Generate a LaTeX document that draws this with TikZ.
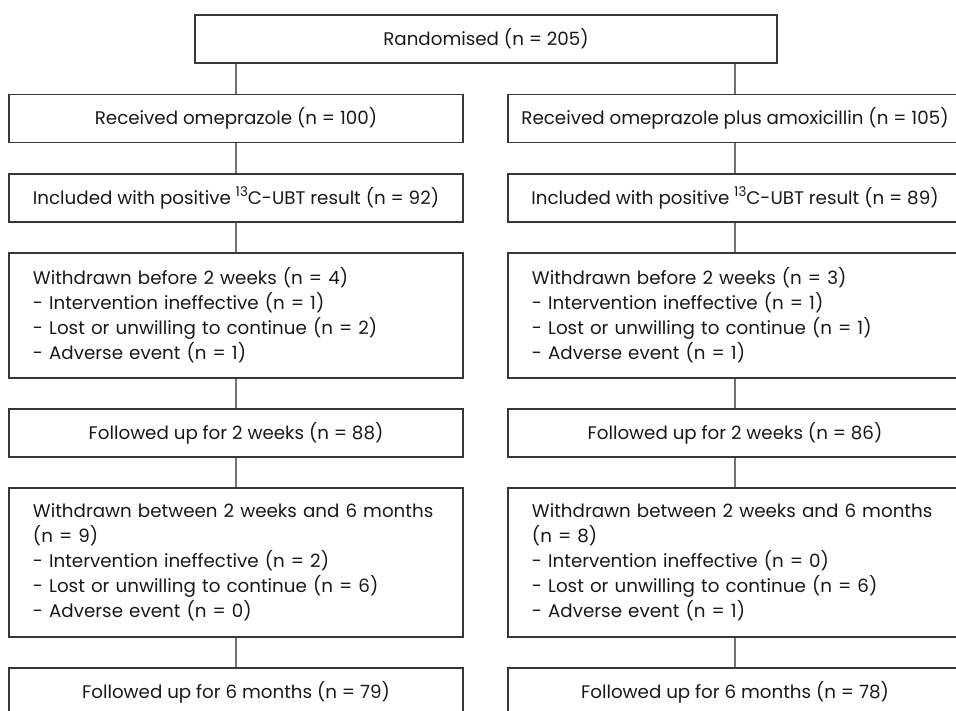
\documentclass[tikz,border=0pt]{standalone}
\usepackage{fontspec}
\setmainfont{Poppins}
\usepackage{tikz}
\usetikzlibrary{
    positioning,
    calc
}
\definecolor{BoxInk}{RGB}{55,55,55}
\definecolor{LinkGray}{RGB}{115,115,115}
\definecolor{TextInk}{RGB}{25,25,25}
\newcommand{\isotope}[1]{\raisebox{0.75ex}{\fontsize{9.5}{10}\selectfont #1}}
\tikzset{
    flowbox/.style={draw=BoxInk, line width=0.9pt, minimum width=113.5mm, minimum height=12mm,
        inner sep=0pt, font=\fontsize{13}{17.8}\selectfont, text=TextInk, align=center},
    listbox/.style={flowbox, text width=101.5mm, inner xsep=6mm, align=left},
    link/.style={draw=LinkGray, line width=0.8pt}
}
\begin{document}
\begin{tikzpicture}[x=0.25mm, y=-0.25mm]
                    \useasboundingbox (0,0) rectangle (956,711);
                    \coordinate (ColL) at (236,0);
                    \coordinate (ColR) at (735,0);
                    \node[flowbox, minimum width=145.5mm] (rand) at (486,39) {Randomised (n = 205)};
                    % left arm: omeprazole
                    \node[flowbox] (recL) at ($(ColL)+(0,118.5)$) {Received omeprazole (n = 100)};
                    \node[flowbox] (incL) at ($(ColL)+(0,198)$) {Included with positive \isotope{13}C-UBT result (n = 92)};
                    \node[listbox, minimum height=31.25mm] (wdaL) at ($(ColL)+(0,315.5)$) {Withdrawn before 2 weeks (n = 4)\\- Intervention ineffective (n = 1)\\- Lost or unwilling to continue (n = 2)\\- Adverse event (n = 1)};
                    \node[flowbox] (fuaL) at ($(ColL)+(0,433)$) {Followed up for 2 weeks (n = 88)};
                    \node[listbox, minimum height=37.25mm] (wdbL) at ($(ColL)+(0,562.5)$) {Withdrawn between 2 weeks and 6 months\\(n = 9)\\- Intervention ineffective (n = 2)\\- Lost or unwilling to continue (n = 6)\\- Adverse event (n = 0)};
                    \node[flowbox] (fubL) at ($(ColL)+(0,692)$) {Followed up for 6 months (n = 79)};
                    % right arm: omeprazole plus amoxicillin
                    \node[flowbox] (recR) at ($(ColR)+(0,118.5)$) {Received omeprazole plus amoxicillin (n = 105)};
                    \node[flowbox] (incR) at ($(ColR)+(0,198)$) {Included with positive \isotope{13}C-UBT result (n = 89)};
                    \node[listbox, minimum height=31.25mm] (wdaR) at ($(ColR)+(0,315.5)$) {Withdrawn before 2 weeks (n = 3)\\- Intervention ineffective (n = 1)\\- Lost or unwilling to continue (n = 1)\\- Adverse event (n = 1)};
                    \node[flowbox] (fuaR) at ($(ColR)+(0,433)$) {Followed up for 2 weeks (n = 86)};
                    \node[listbox, minimum height=37.25mm] (wdbR) at ($(ColR)+(0,562.5)$) {Withdrawn between 2 weeks and 6 months\\(n = 8)\\- Intervention ineffective (n = 0)\\- Lost or unwilling to continue (n = 6)\\- Adverse event (n = 1)};
                    \node[flowbox] (fubR) at ($(ColR)+(0,692)$) {Followed up for 6 months (n = 78)};
                    % connectors
                    \draw[link] (rand.south -| recL.north) -- (recL.north);
                    \draw[link] (rand.south -| recR.north) -- (recR.north);
                    \foreach \side in {L,R}{
                        \draw[link] (rec\side.south) -- (inc\side.north);
                        \draw[link] (inc\side.south) -- (wda\side.north);
                        \draw[link] (wda\side.south) -- (fua\side.north);
                        \draw[link] (fua\side.south) -- (wdb\side.north);
                        \draw[link] (wdb\side.south) -- (fub\side.north);
                    }
                \end{tikzpicture}
\end{document}
